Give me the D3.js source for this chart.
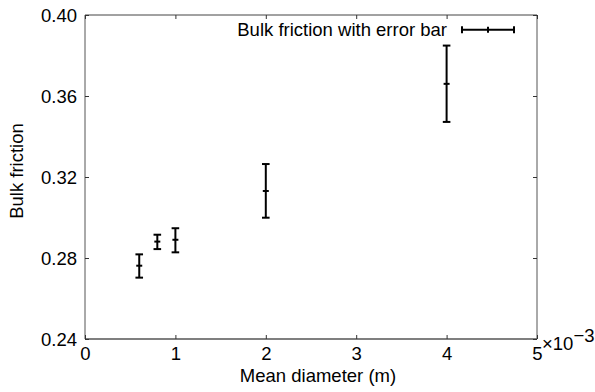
<!DOCTYPE html>
<html>
<head>
<meta charset="utf-8">
<script src="https://cdn.jsdelivr.net/npm/d3@7"></script>
<style>
  body { margin: 0; background: #fff; }
  text { font-family: "Liberation Sans", Arial, sans-serif; fill: #000; }
</style>
</head>
<body>
<svg></svg>
<script>
// data (diameter in units of 1e-3 m)
const diameters = [0.6, 0.8, 1, 2, 4];
const friction = [0.2762, 0.2881, 0.2890, 0.3131, 0.3660];
const errLow = [0.2703, 0.2844, 0.2828, 0.2999, 0.3472];
const errHigh = [0.2818, 0.2915, 0.2947, 0.3264, 0.3849];
const xTicks = [0, 1, 2, 3, 4, 5];
const yTicks = [0.24, 0.28, 0.32, 0.36, 0.40];

const size = { w: 595, h: 392 };
const margin = { t: 15, r: 58, b: 53, l: 85 };
const fs = 18.5;
const svg = d3.select("svg").attr("width", size.w).attr("height", size.h);

const x = d3.scaleLinear().domain([0, 5]).range([margin.l, size.w - margin.r]);
const y = d3.scaleLinear().domain([0.24, 0.40]).range([size.h - margin.b, margin.t]);

// frame: left/right grey-ish, top/bottom darker
const x0 = x.range()[0], x1 = x.range()[1], y0 = y.range()[0], y1 = y.range()[1];
svg.append("line").attr("x1", x0).attr("x2", x1).attr("y1", y0).attr("y2", y0)
  .attr("stroke", "#000").attr("stroke-width", 1.2);
svg.append("line").attr("x1", x0).attr("x2", x1).attr("y1", y1).attr("y2", y1)
  .attr("stroke", "#444").attr("stroke-width", 1);
svg.append("line").attr("x1", x0).attr("x2", x0).attr("y1", y0).attr("y2", y1)
  .attr("stroke", "#555").attr("stroke-width", 1);
svg.append("line").attr("x1", x1).attr("x2", x1).attr("y1", y0).attr("y2", y1)
  .attr("stroke", "#555").attr("stroke-width", 1);

// axes with inward ticks
const fmtY = d3.format(".2f");
const axBottom = svg.append("g").attr("transform", `translate(0,${y0})`)
  .call(d3.axisBottom(x).tickValues(xTicks).tickSize(-4).tickPadding(8).tickFormat(d3.format("d")));
const axTop = svg.append("g").attr("transform", `translate(0,${y1})`)
  .call(d3.axisTop(x).tickValues(xTicks).tickSize(-4).tickFormat(""));
const axLeft = svg.append("g").attr("transform", `translate(${x0},0)`)
  .call(d3.axisLeft(y).tickValues(yTicks).tickSize(-4).tickPadding(8).tickFormat(fmtY));
const axRight = svg.append("g").attr("transform", `translate(${x1},0)`)
  .call(d3.axisRight(y).tickValues(yTicks).tickSize(-4).tickFormat(""));

[axBottom, axTop, axLeft, axRight].forEach(g => {
  g.select(".domain").remove();
  g.selectAll(".tick line").attr("stroke", "#333");
  g.selectAll("text").attr("font-size", fs).style("font-family", "Liberation Sans, Arial, sans-serif");
});
axBottom.selectAll("text").attr("dy", "0.71em");
axLeft.selectAll("text").attr("dy", "0.35em");

// exponent label
const expo = svg.append("text").attr("x", x1 + 5).attr("y", 350).attr("font-size", fs);
expo.append("tspan").text("×10");
expo.append("tspan").attr("dy", -8).text("−3");

// axis titles
svg.append("text").attr("x", 318).attr("y", 382)
  .attr("text-anchor", "middle").attr("font-size", fs).text("Mean diameter (m)");
svg.append("text").attr("transform", `translate(23,171) rotate(-90)`)
  .attr("text-anchor", "middle").attr("font-size", fs).text("Bulk friction");

// error bars
const pts = diameters.map((d, i) => ({ x: d, v: friction[i], lo: errLow[i], hi: errHigh[i] }));
const bars = svg.append("g").attr("stroke", "#000").attr("stroke-width", 2);
const cap = 3.8, mid = 3;
pts.forEach(p => {
  const g = bars.append("g");
  const cx = x(p.x);
  g.append("line").attr("x1", cx).attr("x2", cx).attr("y1", y(p.lo)).attr("y2", y(p.hi));
  g.append("line").attr("x1", cx - cap).attr("x2", cx + cap).attr("y1", y(p.lo)).attr("y2", y(p.lo));
  g.append("line").attr("x1", cx - cap).attr("x2", cx + cap).attr("y1", y(p.hi)).attr("y2", y(p.hi));
  g.append("line").attr("x1", cx - mid).attr("x2", cx + mid).attr("y1", y(p.v)).attr("y2", y(p.v));
});

// legend
const lg = svg.append("g");
lg.append("text").attr("x", 447).attr("y", 36).attr("text-anchor", "end")
  .attr("font-size", fs).text("Bulk friction with error bar");
const ly = 29.7, la = 462, lb = 514, lm = 488;
lg.append("line").attr("x1", la).attr("x2", lb).attr("y1", ly).attr("y2", ly)
  .attr("stroke", "#000").attr("stroke-width", 2);
[la, lb].forEach(px => lg.append("line").attr("x1", px).attr("x2", px)
  .attr("y1", ly - 3.5).attr("y2", ly + 3.5).attr("stroke", "#000").attr("stroke-width", 2));
lg.append("line").attr("x1", lm).attr("x2", lm).attr("y1", ly - 3).attr("y2", ly + 3)
  .attr("stroke", "#000").attr("stroke-width", 2);
</script>
</body>
</html>
